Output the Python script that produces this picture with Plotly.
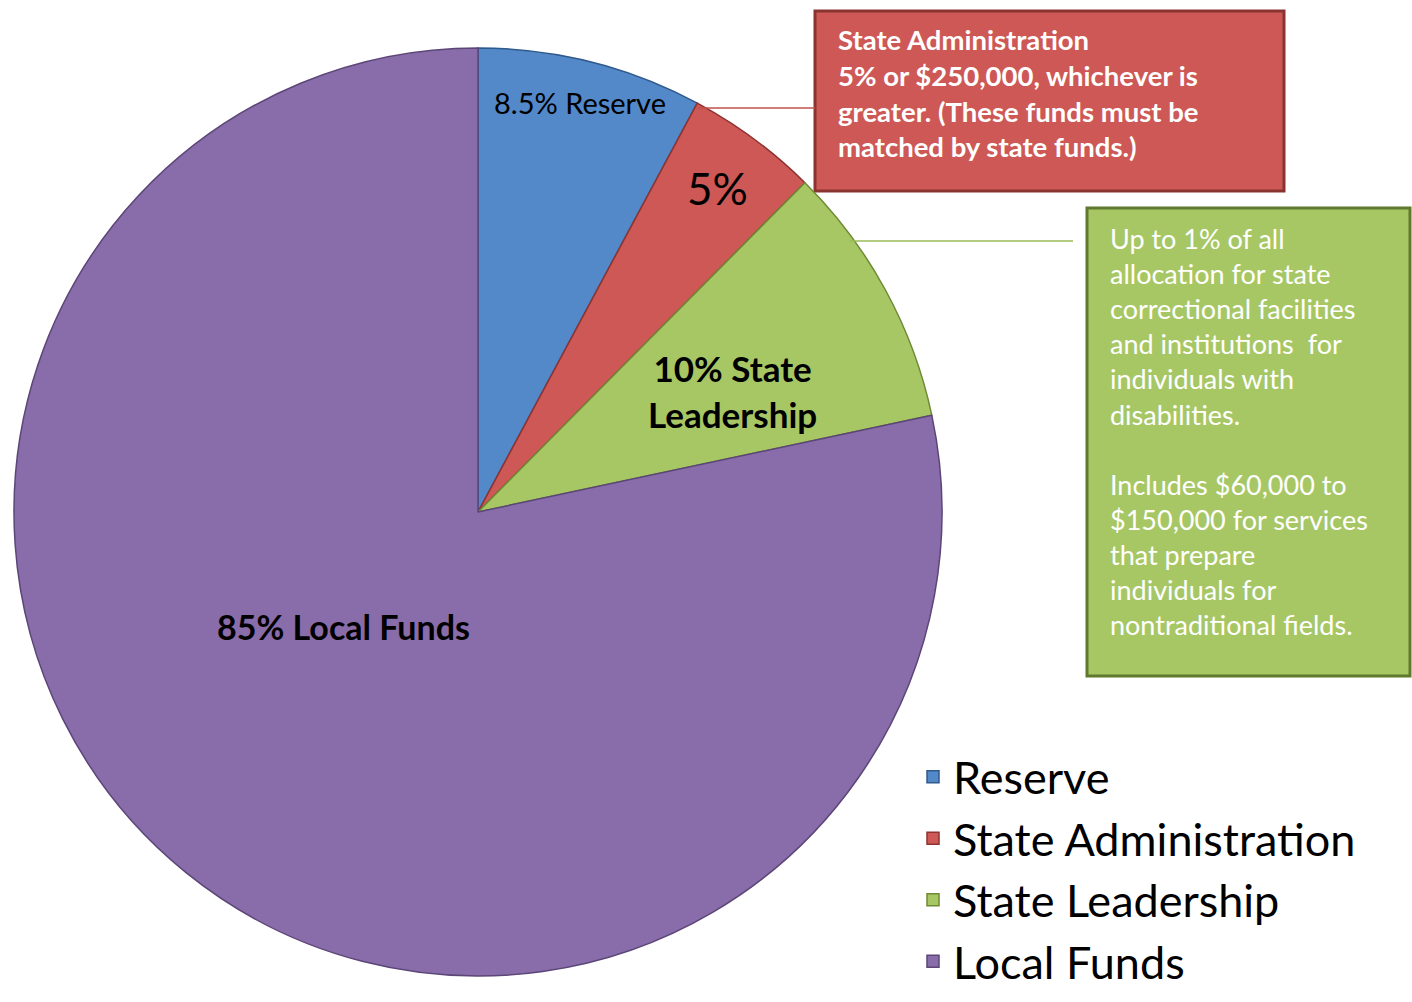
import plotly.graph_objects as go

# ---- data ----
labels = ["Reserve", "State Administration", "State Leadership", "Local Funds"]
values = [8.5, 5, 10, 85]
slice_text = ["8.5% Reserve", "5%", "10% State<br>Leadership", "85% Local Funds"]
colors = ["#5388C9", "#CD5855", "#A7C765", "#896CAA"]
edge_colors = ["#2F5A8C", "#8E3331", "#6E8A34", "#5B4677"]

admin_note = ("State Administration<br>5% or $250,000, whichever is<br>"
              "greater. (These funds must be<br>matched by state funds.)")
leader_note = ("Up to 1% of all<br>allocation for state<br>correctional facilities<br>"
               "and institutions  for<br>individuals with<br>disabilities.<br><br>"
               "Includes $60,000 to<br>$150,000 for services<br>that prepare<br>"
               "individuals for<br>nontraditional fields.")

W, H = 1412, 1002
FONT = "Lato, 'Open Sans', sans-serif"


def px(x):
    return x / W


def py(y):
    return 1 - y / H


fig = go.Figure()
fig.add_trace(go.Pie(
    labels=labels,
    values=values,
    sort=False,
    direction="clockwise",
    rotation=0,
    textinfo="none",
    hoverinfo="label+value",
    marker=dict(colors=colors, line=dict(color=edge_colors, width=1.5)),
    domain=dict(x=[px(14), px(942)], y=[py(976), py(48)]),
    showlegend=True,
))

annotations = []
# slice labels
label_pos = [(580, 103), (717, 188), (732, 391), (343, 626)]
label_size = [29, 44, 35, 34]
label_bold = [False, False, True, True]
for t, (x, y), s, b in zip(slice_text, label_pos, label_size, label_bold):
    annotations.append(dict(
        x=px(x), y=py(y), xref="paper", yref="paper", showarrow=False,
        text=f"<b>{t}</b>" if b else t, xanchor="center", yanchor="middle",
        font=dict(family=FONT, size=s, color="black"), align="center"))

# callout texts
annotations.append(dict(
    x=px(836), y=py(93), xref="paper", yref="paper", showarrow=False,
    text=f"<b>{admin_note}</b>", xanchor="left", yanchor="middle", align="left",
    font=dict(family=FONT, size=27.5, color="white")))
annotations.append(dict(
    x=px(1108), y=py(431.5), xref="paper", yref="paper", showarrow=False,
    text=leader_note, xanchor="left", yanchor="middle", align="left",
    font=dict(family=FONT, size=27, color="white")))

shapes = [
    # connector lines
    dict(type="line", xref="paper", yref="paper", x0=px(697), x1=px(815),
         y0=py(108), y1=py(108), line=dict(color="#C0504D", width=1.5)),
    dict(type="line", xref="paper", yref="paper", x0=px(850), x1=px(1073),
         y0=py(241), y1=py(241), line=dict(color="#9BBB59", width=1.5)),
    # callout boxes
    dict(type="rect", xref="paper", yref="paper", x0=px(815), x1=px(1284),
         y0=py(191), y1=py(11), fillcolor="#CD5855",
         line=dict(color="#8A3432", width=3), layer="below"),
    dict(type="rect", xref="paper", yref="paper", x0=px(1087), x1=px(1410),
         y0=py(676), y1=py(208), fillcolor="#A7C765",
         line=dict(color="#5F7A2F", width=3), layer="below"),
]

fig.update_layout(
    width=W, height=H,
    margin=dict(l=0, r=0, t=0, b=0),
    paper_bgcolor="white",
    plot_bgcolor="white",
    font=dict(family=FONT, color="black"),
    annotations=annotations,
    shapes=shapes,
    legend=dict(x=px(913), y=py(869), xanchor="left", yanchor="middle",
                font=dict(family=FONT, size=45, color="black"),
                bgcolor="rgba(0,0,0,0)"),
)

fig.write_html("out.html", config={"displayModeBar": False},
               post_script="document.body.style.margin='0px';")
